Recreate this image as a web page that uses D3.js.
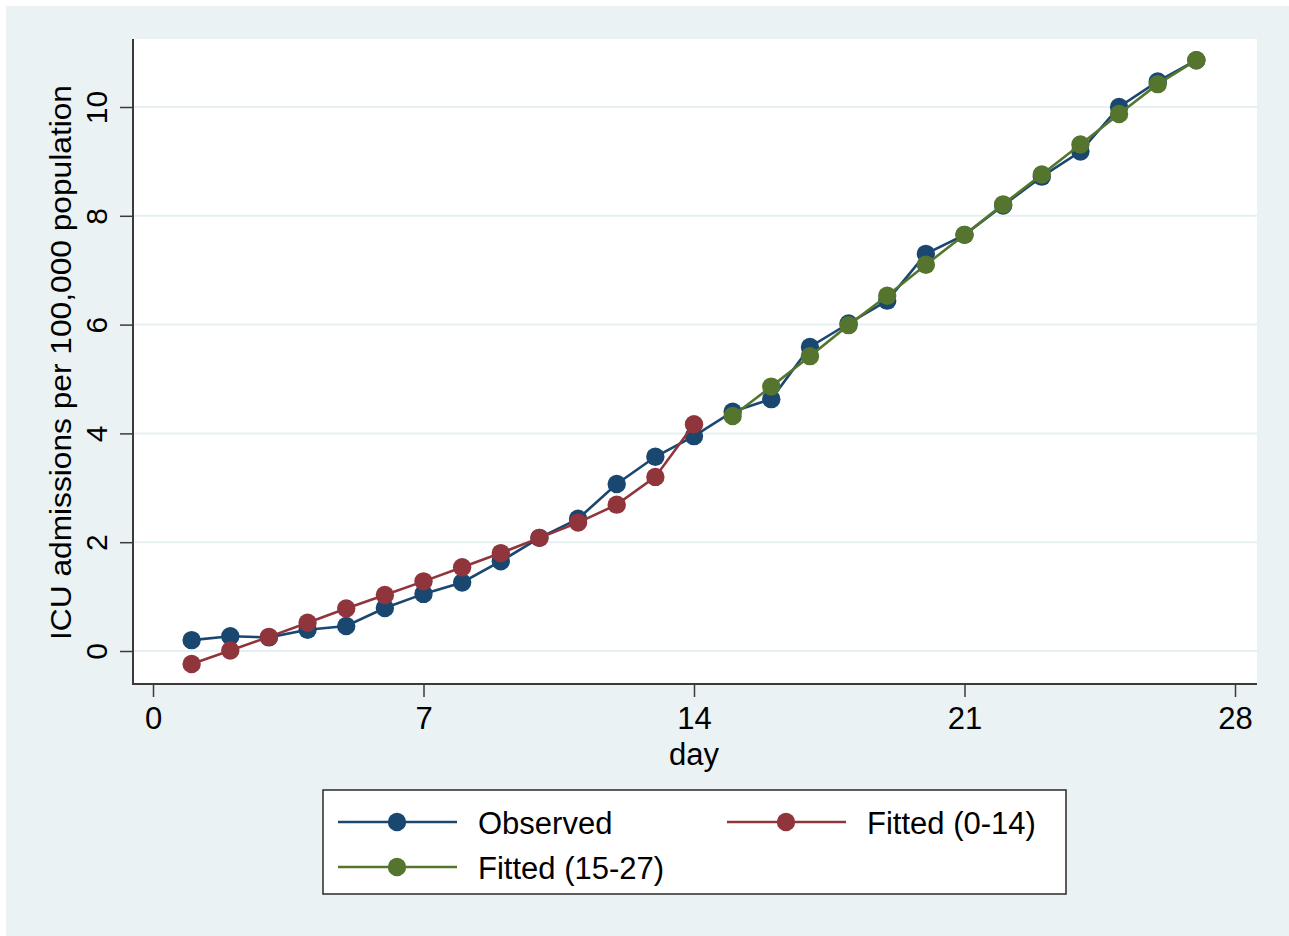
<!DOCTYPE html>
<html>
<head>
<meta charset="utf-8">
<script src="https://cdn.jsdelivr.net/npm/d3@7"></script>
<style>
  body { margin: 0; background: #ffffff; }
  text { font-family: "Liberation Sans", Arial, Helvetica, sans-serif; fill: #000; }
</style>
</head>
<body>
<div id="chart"></div>
<script>
// data
var days = [1, 2, 3, 4, 5, 6, 7, 8, 9, 10, 11, 12, 13, 14, 15, 16, 17, 18, 19, 20, 21, 22, 23, 24, 25, 26, 27];
var observed = [0.20, 0.27, 0.25, 0.39, 0.46, 0.79, 1.05, 1.26, 1.65, 2.08, 2.43, 3.07, 3.57, 3.95,
                4.40, 4.63, 5.59, 6.02, 6.44, 7.30, 7.65, 8.19, 8.72, 9.18, 10.00, 10.47, 10.86];
var daysEarly = [1, 2, 3, 4, 5, 6, 7, 8, 9, 10, 11, 12, 13, 14];
var fittedEarly = [-0.24, 0.01, 0.26, 0.52, 0.78, 1.03, 1.28, 1.54, 1.80, 2.08, 2.36, 2.69, 3.20, 4.17];
var daysLate = [15, 16, 17, 18, 19, 20, 21, 22, 23, 24, 25, 26, 27];
var fittedLate = [4.32, 4.86, 5.42, 5.99, 6.53, 7.10, 7.65, 8.21, 8.76, 9.31, 9.87, 10.42, 10.86];
var xTicks = [0, 7, 14, 21, 28];
var yTicks = [0, 2, 4, 6, 8, 10];
var seriesNames = ["Observed", "Fitted (0-14)", "Fitted (15-27)"];
var seriesColors = ["#1a476f", "#90353b", "#55752f"];

var W = 1289, H = 936;
// plot region
var plot = {left: 133, top: 39, right: 1257, bottom: 684};

var x = d3.scaleLinear().domain([0, 28]).range([153, 1235]);
var y = d3.scaleLinear().domain([0, 10]).range([651, 107]);

var svg = d3.select("#chart").append("svg")
    .attr("width", W)
    .attr("height", H);

// outer graph region
svg.append("rect")
    .attr("x", 6).attr("y", 6)
    .attr("width", W - 6).attr("height", H - 6)
    .style("fill", "#eaf2f3");

// plot area
svg.append("rect")
    .attr("x", plot.left).attr("y", plot.top)
    .attr("width", plot.right - plot.left)
    .attr("height", plot.bottom - plot.top)
    .style("fill", "#ffffff");

// grid lines
svg.selectAll(".grid")
    .data(yTicks)
  .enter().append("line")
    .attr("class", "grid")
    .attr("x1", plot.left).attr("x2", plot.right)
    .attr("y1", function(d) { return y(d); })
    .attr("y2", function(d) { return y(d); })
    .style("stroke", "#e6eff1")
    .style("stroke-width", 2);

// y axis
var yAxis = svg.append("g")
    .attr("transform", "translate(" + plot.left + ",0)")
    .call(d3.axisLeft(y).tickValues(yTicks).tickSize(13).tickFormat(d3.format("d")));
yAxis.select(".domain").remove();
yAxis.selectAll(".tick line").style("stroke", "#3a3a3a").style("stroke-width", 1.5);
yAxis.selectAll(".tick text")
    .attr("x", null).attr("dy", null)
    .attr("transform", "translate(-26,0) rotate(-90)")
    .style("text-anchor", "middle")
    .style("font-size", "30px");

// x axis
var xAxis = svg.append("g")
    .attr("transform", "translate(0," + plot.bottom + ")")
    .call(d3.axisBottom(x).tickValues(xTicks).tickSize(13).tickPadding(10));
xAxis.select(".domain").remove();
xAxis.selectAll(".tick line").style("stroke", "#3a3a3a").style("stroke-width", 1.5);
xAxis.selectAll(".tick text").style("font-size", "31px");

// axis lines
svg.append("line")
    .attr("x1", plot.left).attr("x2", plot.left)
    .attr("y1", plot.top).attr("y2", plot.bottom + 1)
    .style("stroke", "#3a3a3a").style("stroke-width", 2);
svg.append("line")
    .attr("x1", plot.left - 1).attr("x2", plot.right)
    .attr("y1", plot.bottom).attr("y2", plot.bottom)
    .style("stroke", "#3a3a3a").style("stroke-width", 2);

// axis titles
svg.append("text")
    .attr("transform", "rotate(-90)")
    .attr("x", -(85 + 640) / 2)
    .attr("y", 71)
    .attr("textLength", 555)
    .attr("lengthAdjust", "spacingAndGlyphs")
    .style("text-anchor", "middle")
    .style("font-size", "29px")
    .text("ICU admissions per 100,000 population");

svg.append("text")
    .attr("x", x(14))
    .attr("y", 765)
    .style("text-anchor", "middle")
    .style("font-size", "31px")
    .text("day");

// series
var series = [
  {xs: days, ys: observed},
  {xs: daysEarly, ys: fittedEarly},
  {xs: daysLate, ys: fittedLate}
];

var line = d3.line()
    .x(function(d) { return x(d[0]); })
    .y(function(d) { return y(d[1]); });

series.forEach(function(s, i) {
  var pts = s.xs.map(function(d, j) { return [d, s.ys[j]]; });
  svg.append("path")
      .datum(pts)
      .attr("d", line)
      .style("fill", "none")
      .style("stroke", seriesColors[i])
      .style("stroke-width", 2.6);
  svg.selectAll(".dot" + i)
      .data(pts)
    .enter().append("circle")
      .attr("class", "dot" + i)
      .attr("cx", function(d) { return x(d[0]); })
      .attr("cy", function(d) { return y(d[1]); })
      .attr("r", 9.2)
      .style("fill", seriesColors[i]);
});

// legend
var legend = svg.append("g");
legend.append("rect")
    .attr("x", 323).attr("y", 790)
    .attr("width", 743).attr("height", 104)
    .style("fill", "#ffffff")
    .style("stroke", "#2a2a2a")
    .style("stroke-width", 1.5);

var legendPos = [[338, 822], [727, 822], [338, 867]];
seriesNames.forEach(function(name, i) {
  var lx = legendPos[i][0], ly = legendPos[i][1];
  legend.append("line")
      .attr("x1", lx).attr("x2", lx + 119)
      .attr("y1", ly).attr("y2", ly)
      .style("stroke", seriesColors[i])
      .style("stroke-width", 2.6);
  legend.append("circle")
      .attr("cx", lx + 59).attr("cy", ly)
      .attr("r", 9.2)
      .style("fill", seriesColors[i]);
  legend.append("text")
      .attr("x", lx + 140)
      .attr("y", ly + 12)
      .style("font-size", "31px")
      .text(name);
});
</script>
</body>
</html>
